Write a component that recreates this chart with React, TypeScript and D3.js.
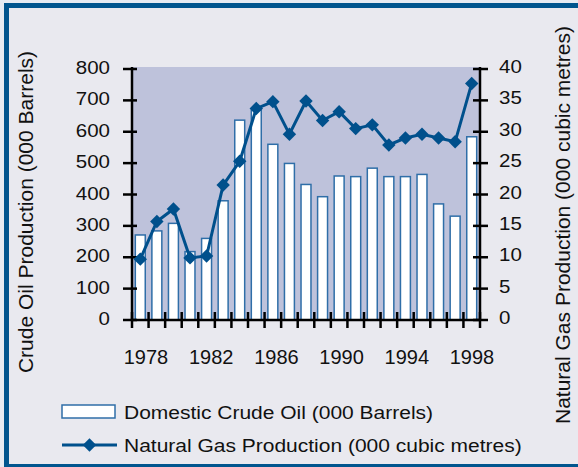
import React, { useEffect, useRef } from 'react';
import * as d3 from 'd3';

// years on the category axis
const years = [1978, 1979, 1980, 1981, 1982, 1983, 1984, 1985, 1986, 1987, 1988,
  1989, 1990, 1991, 1992, 1993, 1994, 1995, 1996, 1997, 1998];
// Domestic Crude Oil (000 Barrels)
const oil = [271, 284, 308, 218, 260, 380, 637, 669, 560, 499, 432,
  393, 459, 457, 484, 457, 457, 464, 370, 331, 584];
// Natural Gas Production (000 cubic metres)
const gas = [9.7, 15.7, 17.7, 9.9, 10.2, 21.5, 25.3, 33.7, 34.8, 29.6, 34.9,
  31.8, 33.2, 30.5, 31.1, 27.9, 29.0, 29.6, 29.0, 28.4, 37.7];

const yearLabels = [1978, 1982, 1986, 1990, 1994, 1998];
const oilTicks = [0, 100, 200, 300, 400, 500, 600, 700, 800];
const gasTicks = [0, 5, 10, 15, 20, 25, 30, 35, 40];

const FONT = "'Liberation Sans', Arial, sans-serif";

const App = () => {
  const ref = useRef<SVGSVGElement>(null);

  useEffect(() => {
    const W = 578, H = 467;
    const left = 132, right = 480, top = 67, bottom = 320;

    const svg = d3.select(ref.current)
      .attr("width", W)
      .attr("height", H);
    svg.selectAll("*").remove();

    // page + frame
    svg.append("rect").attr("width", W).attr("height", H).attr("fill", "#e6ebf2");
    svg.append("rect")
      .attr("x", 6.5).attr("y", 5.5).attr("width", 600).attr("height", 461)
      .attr("fill", "#e9e9ef").attr("stroke", "#00558e").attr("stroke-width", 5);

    const x = d3.scaleBand<number>()
      .domain(years)
      .range([left, right])
      .paddingInner(0.4)
      .paddingOuter(0.2);
    const yOil = d3.scaleLinear().domain([0, 800]).range([bottom, 69]);
    const yGas = d3.scaleLinear().domain([0, 40]).range([bottom, 69]);
    const xLabel = d3.scaleLinear().domain([1978, 1998]).range([146, 472]);

    // plot area
    svg.append("rect")
      .attr("x", left).attr("y", top)
      .attr("width", right - left).attr("height", bottom - top)
      .attr("fill", "#bec2db");

    // bars
    svg.selectAll(".bar")
      .data(years)
      .enter().append("rect")
      .attr("class", "bar")
      .attr("x", d => x(d)!)
      .attr("width", x.bandwidth())
      .attr("y", (d, i) => yOil(oil[i]))
      .attr("height", (d, i) => bottom - yOil(oil[i]))
      .attr("fill", "white")
      .attr("stroke", "#2f6ea8")
      .attr("stroke-width", 1.5);

    // axes
    const axis = svg.append("g").attr("stroke", "black").attr("stroke-width", 2.5);
    axis.append("line").attr("x1", left).attr("x2", left).attr("y1", top).attr("y2", bottom + 1);
    axis.append("line").attr("x1", right).attr("x2", right).attr("y1", top).attr("y2", bottom + 1);
    axis.append("line").attr("x1", left - 1).attr("x2", right + 1).attr("y1", bottom).attr("y2", bottom);

    const step = x.step();
    const bounds = d3.range(years.length + 1).map(i => left + i * step);
    axis.selectAll(".xt").data(bounds).enter().append("line")
      .attr("x1", d => d).attr("x2", d => d)
      .attr("y1", bottom - 8).attr("y2", bottom + 8);

    axis.selectAll(".lt").data(oilTicks).enter().append("line")
      .attr("x1", left - 9).attr("x2", left + 5)
      .attr("y1", d => yOil(d)).attr("y2", d => yOil(d));
    axis.selectAll(".rt").data(gasTicks).enter().append("line")
      .attr("x1", right - 7).attr("x2", right + 8)
      .attr("y1", d => yGas(d)).attr("y2", d => yGas(d));

    // tick labels
    svg.selectAll(".ll").data(oilTicks).enter().append("text")
      .attr("transform", d => `translate(110,${yOil(d) + 5}) scale(1,0.85)`)
      .attr("text-anchor", "end")
      .attr("font-family", FONT).attr("font-size", 20.5).attr("fill", "#111")
      .text(d => d);
    svg.selectAll(".rl").data(gasTicks).enter().append("text")
      .attr("transform", d => `translate(499,${yGas(d) + 4}) scale(1,0.85)`)
      .attr("text-anchor", "start")
      .attr("font-family", FONT).attr("font-size", 20.5).attr("fill", "#111")
      .text(d => d);
    svg.selectAll(".xl").data(yearLabels).enter().append("text")
      .attr("x", d => xLabel(d)).attr("y", 364)
      .attr("text-anchor", "middle")
      .attr("font-family", FONT).attr("font-size", 20).attr("fill", "#111")
      .text(d => d);

    // axis titles
    svg.append("text")
      .attr("transform", "translate(33,212) rotate(-90)")
      .attr("text-anchor", "middle")
      .attr("font-family", FONT).attr("font-size", 21).attr("fill", "#111")
      .text("Crude Oil Production (000 Barrels)");
    svg.append("text")
      .attr("transform", "translate(570,225) rotate(-90)")
      .attr("text-anchor", "middle")
      .attr("font-family", FONT).attr("font-size", 21).attr("fill", "#111")
      .text("Natural Gas Production (000 cubic metres)");

    // gas line + markers
    const cx = (d: number) => x(d)! + x.bandwidth() / 2;
    const line = d3.line<number>()
      .x(d => cx(d))
      .y((d, i) => yGas(gas[i]));
    svg.append("path")
      .datum(years)
      .attr("d", line)
      .attr("fill", "none")
      .attr("stroke", "#00508c")
      .attr("stroke-width", 3);

    const diamond = d3.symbol().type(d3.symbolDiamond2).size(115);
    svg.selectAll(".mk").data(years).enter().append("path")
      .attr("d", diamond)
      .attr("transform", (d, i) => `translate(${cx(d)},${yGas(gas[i])})`)
      .attr("fill", "#00508c");

    // legend
    const lg = svg.append("g");
    lg.append("rect")
      .attr("x", 62).attr("y", 405).attr("width", 53).attr("height", 13)
      .attr("fill", "white").attr("stroke", "#2f6ea8").attr("stroke-width", 1.5);
    lg.append("text")
      .attr("transform", "translate(124,418.5) scale(1,0.88)")
      .attr("font-family", FONT).attr("font-size", 21).attr("fill", "#111")
      .text("Domestic Crude Oil (000 Barrels)");
    lg.append("line")
      .attr("x1", 62).attr("x2", 117).attr("y1", 445).attr("y2", 445)
      .attr("stroke", "#00508c").attr("stroke-width", 3);
    lg.append("path")
      .attr("d", diamond)
      .attr("transform", "translate(89.5,445)")
      .attr("fill", "#00508c");
    lg.append("text")
      .attr("transform", "translate(124,452) scale(1,0.88)")
      .attr("font-family", FONT).attr("font-size", 21).attr("fill", "#111")
      .text("Natural Gas Production (000 cubic metres)");
  }, []);

  return (
    <svg ref={ref} style={{ position: 'absolute', left: 0, top: 0, display: 'block' }}></svg>
  );
};

export default App;
